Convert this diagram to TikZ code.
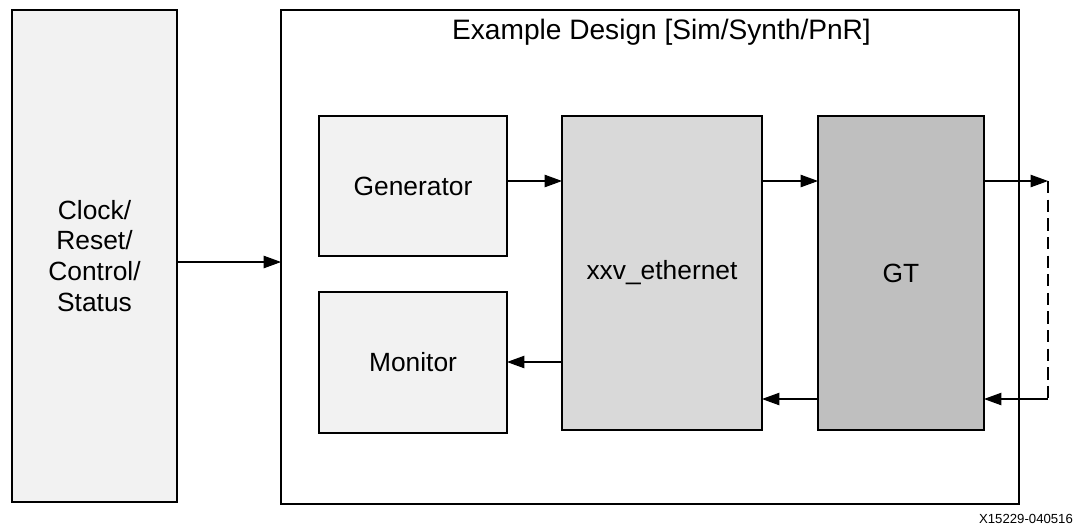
\documentclass[tikz,border=0pt]{standalone}
\usepackage{fontspec}
\setmainfont{Liberation Sans}
\usetikzlibrary{arrows.meta}
\definecolor{blkLight}{HTML}{F2F2F2}
\definecolor{blkMid}{HTML}{D9D9D9}
\definecolor{blkDark}{HTML}{BFBFBF}
\tikzset{
    blk/.style={draw, line width=1.3pt, inner sep=0pt, outer sep=0pt, align=center,
        font=\fontsize{15}{17.6}\selectfont},
    arr/.style={-{Triangle[length=0.35cm, width=0.25cm]}, line width=0.6pt},
    loopline/.style={line width=1.1pt, dash pattern=on 7pt off 3.6pt}
}
\begin{document}
\begin{tikzpicture}[x=0.02cm, y=-0.02cm]
                \useasboundingbox (0,0) rectangle (1077,529);
                \node[blk, fill=blkLight, minimum width=3.3cm, minimum height=9.84cm] (ctrl) at (94.5,256) {Clock/\\Reset/\\Control/\\Status};
                \node[blk, minimum width=14.76cm, minimum height=9.88cm] (design) at (650,257) {};
                \node[font=\fontsize{16}{19}\selectfont] (title) at (661.5,32) {Example Design [Sim/Synth/PnR]};
                \node[blk, fill=blkLight, minimum width=3.76cm, minimum height=2.8cm] (gen) at (413,186) {Generator};
                \node[blk, fill=blkLight, minimum width=3.76cm, minimum height=2.82cm] (mon) at (413,362.5) {Monitor};
                \node[blk, fill=blkMid, minimum width=4cm, minimum height=6.28cm] (xxv) at (662,273) {xxv\_ethernet};
                \node[blk, fill=blkDark, minimum width=3.32cm, minimum height=6.28cm] (gt) at (901,273) {GT};
                \coordinate (tx) at (1048,181);
                \coordinate (rx) at (1048,399);
                \coordinate (mrx) at (0,362);
                \draw[arr] (ctrl.east |- 0,262) -- (design.west |- 0,262);
                \draw[arr] (gen.east |- tx) -- (xxv.west |- tx);
                \draw[arr] (xxv.east |- tx) -- (gt.west |- tx);
                \draw[arr] (xxv.west |- mrx) -- (mon.east |- mrx);
                \draw[arr] (gt.west |- rx) -- (xxv.east |- rx);
                % loopback
                \draw[arr] (gt.east |- tx) -- (tx);
                \draw[loopline] (tx) -- (rx);
                \draw[arr] (rx) -- (gt.east |- rx);
                \node[font=\fontsize{7.5}{9}\selectfont] (figid) at (1026,519) {X15229-040516};
            \end{tikzpicture}
\end{document}
